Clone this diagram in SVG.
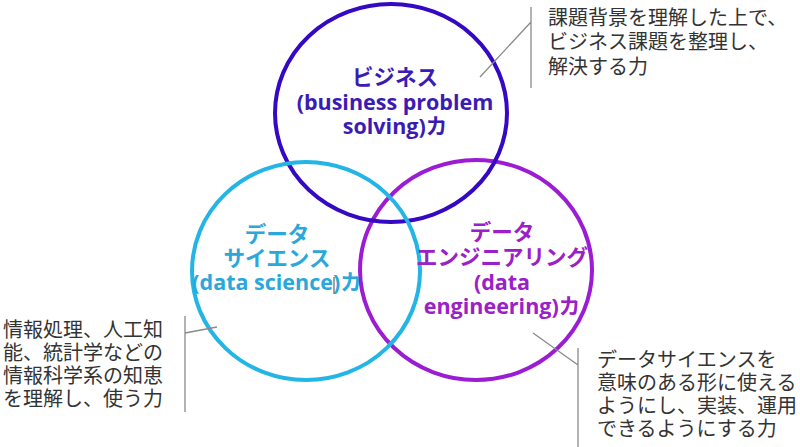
<svg xmlns="http://www.w3.org/2000/svg" width="800" height="447" viewBox="0 0 800 447">
<style>
.ring{fill:none;stroke-width:4}
.lbl{font-family:"Open Sans","Noto Sans CJK JP",sans-serif;font-weight:bold;font-size:21.5px;text-anchor:middle}
.note{font-family:"Noto Sans CJK JP",sans-serif;font-size:20px;fill:#333}
.lead{stroke:#8a8a8a;stroke-width:1.3;fill:none}
</style>
<rect width="800" height="447" fill="#fff"/>
<g id="node-engineering">
<ellipse class="ring" cx="476" cy="270" rx="116" ry="110" stroke="#9c1cd4"/>
</g>
<g id="node-business">
<ellipse class="ring" cx="391" cy="113" rx="116" ry="109" stroke="#3508c4"/>
<text class="lbl" fill="#3a1cb4"><tspan x="395" y="85">ビジネス</tspan><tspan x="395" y="110">(business problem</tspan><tspan x="395" y="134">solving)カ</tspan></text>
</g>
<g id="node-science">
<ellipse class="ring" cx="306" cy="271" rx="114" ry="109" stroke="#22b5e5"/>
<text class="lbl" fill="#2aa8da"><tspan x="277" y="242">データ</tspan><tspan x="277" y="266">サイエンス</tspan><tspan x="277" y="290">(data science)カ</tspan></text>
<line x1="334" y1="277" x2="334" y2="294" stroke="#444" stroke-width="1"/>
</g>
<g id="node-engineering-label">
<text class="lbl" fill="#9b20c8"><tspan x="502" y="240">データ</tspan><tspan x="502" y="265">エンジニアリング</tspan><tspan x="502" y="290">(data</tspan><tspan x="502" y="314">engineering)カ</tspan></text>
</g>
<g id="connectors">
<path class="lead" d="M531 7V88M531 22L480 77"/>
<path class="lead" d="M185 316V412M185 333L217 327"/>
<path class="lead" d="M578 348V447M533 333L578 365"/>
</g>
<g id="note-business">
<text class="note"><tspan x="548" y="25">課題背景を理解した上で、</tspan><tspan x="548" y="49">ビジネス課題を整理し、</tspan><tspan x="548" y="74">解決する力</tspan></text>
</g>
<g id="note-science">
<text class="note"><tspan x="3" y="337">情報処理、人工知</tspan><tspan x="3" y="360">能、統計学などの</tspan><tspan x="3" y="383">情報科学系の知恵</tspan><tspan x="3" y="406">を理解し、使う力</tspan></text>
</g>
<g id="note-engineering">
<text class="note"><tspan x="597" y="367">データサイエンスを</tspan><tspan x="597" y="390">意味のある形に使える</tspan><tspan x="597" y="413">ようにし、実装、運用</tspan><tspan x="597" y="436">できるようにする力</tspan></text>
</g>
</svg>
